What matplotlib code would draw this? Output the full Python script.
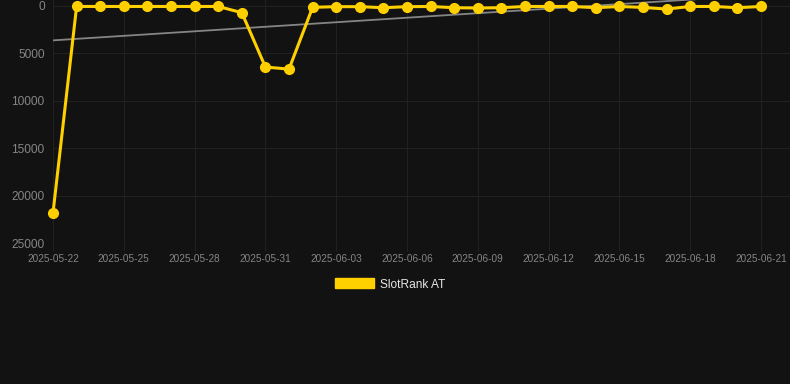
import matplotlib
matplotlib.use("Agg")
import matplotlib.pyplot as plt
import matplotlib.dates as mdates
import numpy as np
import pandas as pd

dates = pd.date_range("2025-05-22", "2025-06-21", freq="D")
ranks = [21800, 50, 50, 50, 50, 50, 50, 50, 700, 6430, 6650,
         140, 70, 70, 180, 70, 50, 180, 210, 180, 50,
         50, 50, 180, 50, 150, 320, 50, 50, 180, 50]
series_label = "SlotRank AT"
yticks = [0, 5000, 10000, 15000, 20000, 25000]

bg = "#121212"
yellow = "#FFD000"
grid_c = "#222222"
tick_c = "#858585"

plt.rcParams['font.family'] = ['Liberation Sans', 'DejaVu Sans']

fig = plt.figure(figsize=(7.9, 3.84), dpi=100, facecolor=bg)
ax = fig.add_axes([53/790, 1 - 243.3/384, 1 - 53/790, 243.3/384])
ax.set_facecolor(bg)

x = mdates.date2num(dates)
y = np.array(ranks, dtype=float)

# trend line (least squares)
coef = np.polyfit(x - x[0], y, 1)
trend = np.polyval(coef, x - x[0])
ax.plot(dates, trend, color="#858585", lw=1.3, zorder=2)

ax.plot(dates, y, color=yellow, lw=2.2, marker="o", ms=7, zorder=3,
        label=series_label, clip_on=False)

px_per_unit = (243.3 - 6) / 25000
ax.set_ylim(25000, -6 / px_per_unit)
day_px = (761 - 53) / 30
ax.set_xlim(x[0], x[0] + (790 - 53) / day_px)

ax.set_yticks(yticks)
ax.set_yticklabels([str(v) for v in yticks])
tick_dates = dates[::3]
ax.set_xticks(mdates.date2num(tick_dates))
ax.set_xticklabels([d.strftime("%Y-%m-%d") for d in tick_dates])

ax.grid(True, color=grid_c, lw=0.7)
ax.set_axisbelow(True)
for s in ax.spines.values():
    s.set_visible(False)
ax.tick_params(axis="y", length=0, pad=6, labelsize=8.6, labelcolor=tick_c)
ax.tick_params(axis="x", length=6, width=0.7, color=grid_c, pad=2, labelsize=7.2, labelcolor=tick_c)

handle = plt.Rectangle((0, 0), 1, 1, color=yellow)
leg = fig.legend([handle], [series_label], loc="center",
                 bbox_to_anchor=(390/790, 1 - 284.5/384), frameon=False,
                 handlelength=3.3, handleheight=0.9, handletextpad=0.5,
                 fontsize=8.6, labelcolor="#e6e6e6")

fig.savefig("out.png", dpi=100, facecolor=bg)
